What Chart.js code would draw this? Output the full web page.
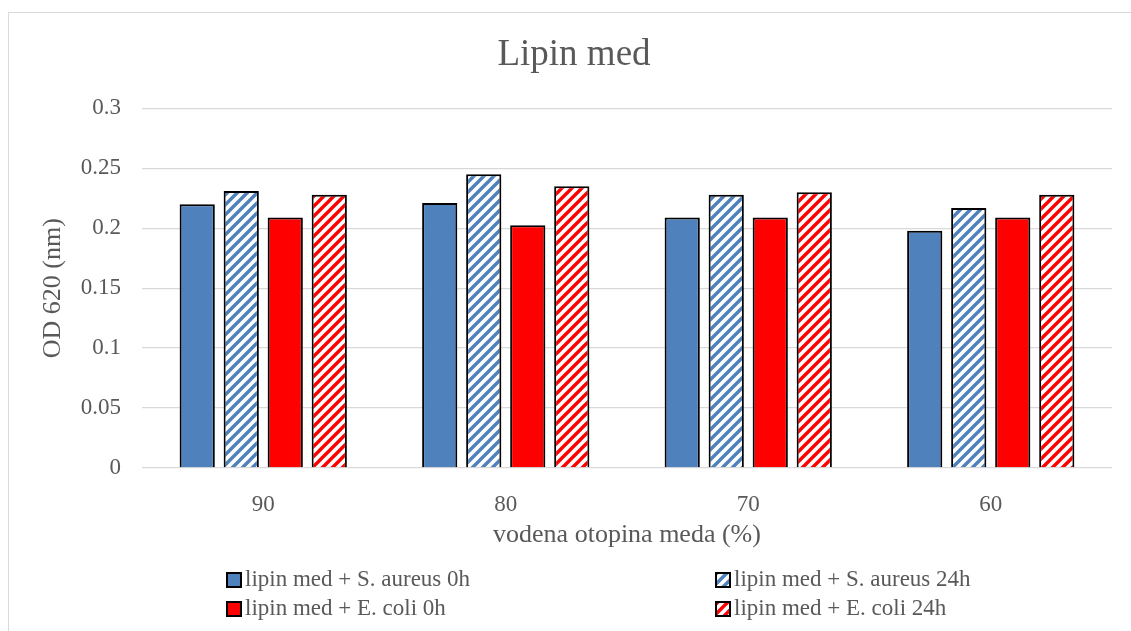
<!DOCTYPE html>
<html>
<head>
<meta charset="utf-8">
<title>Lipin med</title>
<script src="https://cdn.jsdelivr.net/npm/chart.js@4.4.1/dist/chart.umd.min.js"></script>
<style>
  html, body { margin: 0; padding: 0; background: #fff; }
  #wrap { width: 1131px; height: 631px; position: relative; }
</style>
</head>
<body>
<div id="wrap"><canvas id="bar-chart-lipin"></canvas></div>
<script>
// Lipin med - OD 620 bar chart
var categories = ["90", "80", "70", "60"];
var seriesLabels = [
  "lipin med + S. aureus 0h",
  "lipin med + S. aureus 24h",
  "lipin med + E. coli 0h",
  "lipin med + E. coli 24h"
];
var saureus0h = [0.220, 0.221, 0.209, 0.198];
var saureus24h = [0.231, 0.245, 0.228, 0.217];
var ecoli0h = [0.209, 0.2025, 0.209, 0.209];
var ecoli24h = [0.228, 0.235, 0.230, 0.228];
var yTicks = ["0", "0.05", "0.1", "0.15", "0.2", "0.25", "0.3"];

var BLUE = "#4F81BD";
var RED = "#FF0000";
var TEXT = "#595959";
var FONT = "'Liberation Serif', 'Times New Roman', serif";

// diagonal stripe fill, like the excel "wide upward diagonal"
function stripes(color) {
  var c = document.createElement("canvas");
  c.width = 10; c.height = 10;
  var g = c.getContext("2d");
  g.fillStyle = "#fff";
  g.fillRect(0, 0, 10, 10);
  g.strokeStyle = color;
  g.lineWidth = 3.4;
  g.beginPath();
  g.moveTo(-5, 5); g.lineTo(5, -5);
  g.moveTo(0, 10); g.lineTo(10, 0);
  g.moveTo(5, 15); g.lineTo(15, 5);
  g.stroke();
  return g.createPattern(c, "repeat");
}

var ctxBar = document.getElementById("bar-chart-lipin");
var fills = [BLUE, stripes(BLUE), RED, stripes(RED)];
var values = [saureus0h, saureus24h, ecoli0h, ecoli24h];

var frame = {
  id: "frame",
  beforeDraw: function (chart) {
    // title is centred on the full (wider) excel chart box
    if (chart.titleBlock) {
      chart.titleBlock.left = 17;
      chart.titleBlock.right = chart.width;
    }
    var c = chart.ctx;
    c.save();
    c.fillStyle = "#fff";
    c.fillRect(0, 0, chart.width, chart.height);
    c.strokeStyle = "#d9d9d9";
    c.lineWidth = 1;
    c.strokeRect(8.5, 12.5, chart.width + 20, chart.height + 20);
    c.restore();
  }
};

var legendGrid = {
  id: "legendGrid",
  afterDraw: function (chart) {
    var c = chart.ctx;
    c.save();
    c.font = "23px " + FONT;
    c.textBaseline = "middle";
    c.textAlign = "left";
    chart.data.datasets.forEach(function (ds, i) {
      var x = i % 2 === 0 ? 227 : 716;
      var y = Math.floor(i / 2) === 0 ? 580 : 609;
      c.fillStyle = ds.backgroundColor;
      c.fillRect(x, y - 7, 14, 14);
      c.strokeStyle = "#000";
      c.lineWidth = 2;
      c.strokeRect(x, y - 7, 14, 14);
      c.fillStyle = TEXT;
      c.fillText(ds.label, x + 18, y);
    });
    c.restore();
  }
};

ctxBar && new Chart(ctxBar.getContext("2d"), {
  type: "bar",
  data: {
    labels: categories,
    datasets: values.map(function (v, i) {
      return {
        label: seriesLabels[i],
        data: v,
        backgroundColor: fills[i],
        borderColor: "#000",
        borderWidth: 2,
        borderSkipped: "start",
        categoryPercentage: 0.726,
        barPercentage: 0.8
      };
    })
  },
  options: {
    responsive: true,
    maintainAspectRatio: false,
    animation: false,
    layout: { padding: { left: 0, right: 19, top: 0, bottom: 0 } },
    plugins: {
      legend: { display: false },
      tooltip: { enabled: false },
      title: {
        display: true,
        text: "Lipin med",
        color: TEXT,
        font: { family: FONT, size: 37, weight: "normal" },
        padding: { top: 33, bottom: 31 }
      }
    },
    scales: {
      x: {
        grid: { display: false },
        border: { display: false },
        ticks: { color: TEXT, font: { family: FONT, size: 23 }, padding: 15 },
        title: {
          display: true,
          text: "vodena otopina meda (%)",
          color: TEXT,
          font: { family: FONT, size: 26 },
          padding: { top: 0, bottom: 80 }
        },
        afterFit: function (scale) { scale.height = 163; }
      },
      y: {
        min: 0,
        max: 0.3,
        grid: { color: "#d9d9d9", lineWidth: 1.3, drawTicks: false },
        border: { display: false },
        ticks: {
          stepSize: 0.05,
          color: TEXT,
          font: { family: FONT, size: 23 },
          padding: 21,
          callback: function (v, i) { return yTicks[i]; }
        },
        title: {
          display: true,
          text: "OD 620 (nm)",
          color: TEXT,
          font: { family: FONT, size: 26 },
          padding: { top: 38, bottom: 0 }
        },
        afterFit: function (scale) { scale.width = 142; }
      }
    }
  },
  plugins: [frame, legendGrid]
});
</script>
</body>
</html>
